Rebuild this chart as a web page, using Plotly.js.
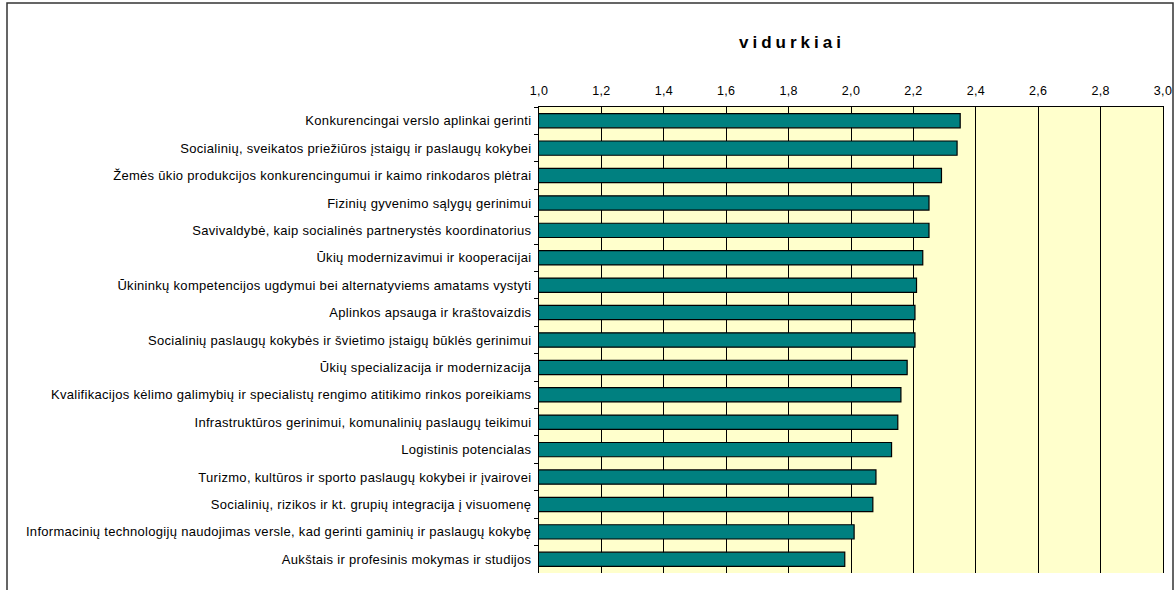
<!DOCTYPE html>
<html>
<head>
<meta charset="utf-8">
<script src="https://cdn.plot.ly/plotly-3.0.1.min.js"></script>
<style>
  html, body { margin: 0; padding: 0; background: #ffffff; }
  #chart { width: 1176px; height: 590px; }
  .gtitle { letter-spacing: 4px; }
  .ytick text { letter-spacing: 0.3px; }
  .xtick text { letter-spacing: 0.3px; }
</style>
</head>
<body>
<div id="chart"></div>
<script>
const categories = [
  "Konkurencingai verslo aplinkai gerinti",
  "Socialinių, sveikatos priežiūros įstaigų ir paslaugų kokybei",
  "Žemės ūkio produkcijos konkurencingumui ir kaimo rinkodaros plėtrai",
  "Fizinių gyvenimo sąlygų gerinimui",
  "Savivaldybė, kaip socialinės partnerystės koordinatorius",
  "Ūkių modernizavimui ir kooperacijai",
  "Ūkininkų kompetencijos ugdymui bei alternatyviems amatams vystyti",
  "Aplinkos apsauga ir kraštovaizdis",
  "Socialinių paslaugų kokybės ir švietimo įstaigų būklės gerinimui",
  "Ūkių specializacija ir modernizacija",
  "Kvalifikacijos kėlimo galimybių ir specialistų rengimo atitikimo rinkos poreikiams",
  "Infrastruktūros gerinimui, komunalinių paslaugų teikimui",
  "Logistinis potencialas",
  "Turizmo, kultūros ir sporto paslaugų kokybei ir įvairovei",
  "Socialinių, rizikos ir kt. grupių integracija į visuomenę",
  "Informacinių technologijų naudojimas versle, kad gerinti gaminių ir paslaugų kokybę",
  "Aukštais ir profesinis mokymas ir studijos"
];
const averages = [2.35, 2.34, 2.29, 2.25, 2.25, 2.23, 2.21, 2.205, 2.205, 2.18, 2.16, 2.15, 2.13, 2.08, 2.07, 2.01, 1.98];
const chartTitle = "vidurkiai";
const axisMin = 1.0, axisMax = 3.0, axisStep = 0.2;

const W = 1176, H = 590;
const L = 539, R = 13, T = 107, B = 17;
const pw = W - L - R, ph = H - T - B;

const trace = {
  type: 'bar',
  orientation: 'h',
  x: averages,
  y: categories,
  marker: { color: '#008080', line: { color: '#000000', width: 1.2 } },
  hoverinfo: 'skip'
};

const layout = {
  width: W, height: H,
  margin: { l: L, r: R, t: T, b: B, pad: 0 },
  paper_bgcolor: '#ffffff',
  plot_bgcolor: '#FFFFCC',
  separators: ',.',
  showlegend: false,
  hovermode: false,
  bargap: 0.48,
  font: { family: 'Liberation Sans, Arial, sans-serif', color: '#000000', size: 12 },
  title: {
    text: chartTitle,
    x: 792 / W, xanchor: 'center',
    y: 1 - 42 / H, yanchor: 'middle',
    font: { family: 'Liberation Sans, Arial, sans-serif', size: 17, weight: 'bold', color: '#000000' }
  },
  xaxis: {
    side: 'top',
    range: [axisMin, axisMax],
    tick0: axisMin, dtick: axisStep,
    tickformat: '.1f',
    showgrid: true, gridcolor: '#000000', gridwidth: 1,
    zeroline: false,
    showline: true, linecolor: '#000000', linewidth: 1,
    ticks: '',
    ticklabelstandoff: 6,
    tickfont: { size: 12.5, color: '#000000' },
    fixedrange: true
  },
  xaxis2: {
    overlaying: 'x', side: 'bottom', anchor: 'y',
    range: [axisMin, axisMax],
    tick0: axisMin, dtick: axisStep,
    showgrid: false, zeroline: false,
    showline: true, linecolor: '#000000', linewidth: 1,
    ticks: 'outside', ticklen: 4, tickcolor: '#000000',
    showticklabels: false,
    fixedrange: true
  },
  yaxis: {
    type: 'category',
    autorange: 'reversed',
    showgrid: false, zeroline: false,
    showline: true, mirror: true, linecolor: '#000000', linewidth: 1,
    ticks: 'outside', ticklen: 4, tickcolor: '#000000',
    tickson: 'boundaries',
    ticklabelstandoff: 4,
    tickfont: { size: 13, color: '#000000' },
    fixedrange: true
  },
  shapes: [
    {
      type: 'rect', xref: 'paper', yref: 'paper',
      x0: (7 - L) / pw, x1: (1173 - L) / pw,
      y0: (H - B - 600) / ph, y1: (H - B - 3) / ph,
      line: { color: '#333333', width: 1.5 },
      fillcolor: 'rgba(0,0,0,0)', layer: 'below'
    }
  ]
};

Plotly.newPlot('chart', [trace], layout, { displayModeBar: false, staticPlot: true });
</script>
</body>
</html>
